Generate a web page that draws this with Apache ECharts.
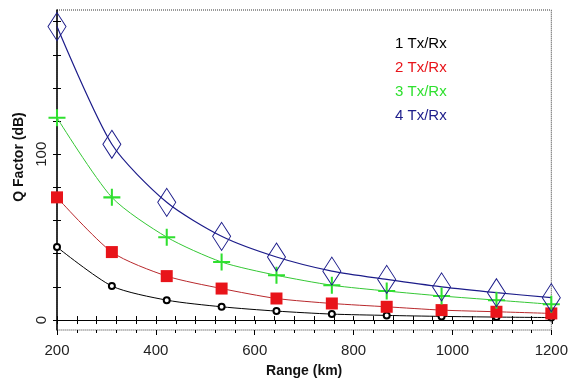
<!DOCTYPE html>
<html>
<head>
<meta charset="utf-8">
<script src="https://cdn.jsdelivr.net/npm/echarts@6/dist/echarts.min.js"></script>
<style>
  html, body { margin: 0; padding: 0; background: #fff; }
  #chart { width: 571px; height: 387px; }
</style>
</head>
<body>
<div id="chart"></div>
<script>
// Q factor vs range, one curve per Tx/Rx count
const rangeKm = [200, 311, 422, 533, 644, 756, 867, 978, 1089, 1200];
const q1 = [44, 20.5, 12, 8, 5.4, 3.6, 2.8, 2.2, 1.8, 1.5];
const q2 = [74, 41, 26.5, 19, 13, 10, 8, 6, 5, 4];
const q3 = [122, 74, 50, 35, 27, 21, 17.5, 14.5, 12, 9.5];
const q4 = [177, 106, 71, 50.5, 38, 29.5, 24.5, 20, 16.5, 13.5];
const seriesNames = ['1 Tx/Rx', '2 Tx/Rx', '3 Tx/Rx', '4 Tx/Rx'];
const yTicks = [0, 20, 40, 60, 80, 100, 120, 140, 160, 180];
const yLabels = [0, 100];

const FONT = '"Liberation Sans", Arial, sans-serif';
const COLORS = ['#000000', '#e8141a', '#2fe02f', '#1c1c8a'];
const LINE_COLORS = ['#000000', '#b8282c', '#34c734', '#1c1c8a'];
const PLUS = 'path://M4.4,0h1.2v4.4h4.4v1.2h-4.4v4.4h-1.2v-4.4h-4.4v-1.2h4.4z';

const pairs = ys => rangeKm.map((x, i) => [x, ys[i]]);

const chart = echarts.init(document.getElementById('chart'), null, { renderer: 'canvas' });

const gridBox = { left: 57, right: 19, top: 10, bottom: 57 };
const yRange = { min: -6, max: 187 };

chart.setOption({
  animation: false,
  textStyle: { fontFamily: FONT },
  grid: [
    Object.assign({ show: true, borderColor: '#333', borderWidth: 1, borderType: 'dotted', backgroundColor: 'transparent' }, gridBox),
    Object.assign({}, gridBox),
  ],
  legend: {
    orient: 'vertical',
    left: 385,
    top: 31,
    itemWidth: 0,
    itemHeight: 14,
    itemGap: 9,
    selectedMode: false,
    icon: 'none',
    textStyle: { fontFamily: FONT, fontSize: 15, padding: 0 },
    data: seriesNames.map((n, i) => ({ name: n, icon: 'none', textStyle: { color: COLORS[i] } })),
  },
  xAxis: [
    {
      // bottom frame with labels
      gridIndex: 0, type: 'value', position: 'bottom', min: 200, max: 1200, interval: 200,
      name: 'Range (km)', nameLocation: 'middle', nameGap: 34,
      nameTextStyle: { fontFamily: FONT, fontSize: 14, fontWeight: 'bold', color: '#111' },
      axisLine: { show: false, onZero: false },
      axisTick: { show: true, length: 5, lineStyle: { color: '#000' } },
      minorTick: { show: true, splitNumber: 5, length: 3, lineStyle: { color: '#000' } },
      axisLabel: { fontFamily: FONT, fontSize: 15, color: '#222', margin: 13, formatter: v => String(v) },
      splitLine: { show: false },
    },
    {
      // zero line, ticks pointing up
      gridIndex: 0, type: 'value', position: 'top', min: 200, max: 1200, interval: 40,
      axisLine: { show: true, onZero: true, lineStyle: { color: '#000', width: 1 } },
      axisTick: { show: true, length: 4, lineStyle: { color: '#000' } },
      axisLabel: { show: false },
      splitLine: { show: false },
    },
    {
      // zero line, ticks pointing down
      gridIndex: 1, type: 'value', position: 'bottom', min: 200, max: 1200, interval: 40,
      axisLine: { show: true, onZero: true, lineStyle: { color: '#000', width: 1 } },
      axisTick: { show: true, length: 4, lineStyle: { color: '#000' } },
      axisLabel: { show: false },
      splitLine: { show: false },
    },
  ],
  yAxis: [
    {
      gridIndex: 0, type: 'value', position: 'left', min: yRange.min, max: yRange.max,
      name: 'Q Factor (dB)', nameLocation: 'middle', nameGap: 29, nameRotate: 90,
      nameTextStyle: { fontFamily: FONT, fontSize: 14, fontWeight: 'bold', color: '#111', padding: [0, 0, 0, 26] },
      axisLine: { show: true, onZero: false, lineStyle: { color: '#000', width: 1.5 } },
      axisTick: { show: true, length: 4, customValues: yTicks, lineStyle: { color: '#000' } },
      axisLabel: { fontFamily: FONT, fontSize: 15, color: '#222', rotate: 90, margin: 8, customValues: yLabels },
      splitLine: { show: false },
    },
    {
      gridIndex: 1, type: 'value', position: 'left', min: yRange.min, max: yRange.max,
      axisLine: { show: false, onZero: false },
      axisTick: { show: true, inside: true, length: 4, customValues: yTicks, lineStyle: { color: '#000' } },
      axisLabel: { show: false },
      splitLine: { show: false },
    },
  ],
  series: [
    {
      name: seriesNames[0], type: 'line', xAxisIndex: 0, yAxisIndex: 0, data: pairs(q1),
      smooth: 0.25, symbol: 'emptyCircle', symbolSize: 6,
      lineStyle: { color: LINE_COLORS[0], width: 1 },
      itemStyle: { color: COLORS[0], borderWidth: 1 },
    },
    {
      name: seriesNames[1], type: 'line', xAxisIndex: 0, yAxisIndex: 0, data: pairs(q2),
      smooth: 0.25, symbol: 'rect', symbolSize: 12,
      lineStyle: { color: LINE_COLORS[1], width: 1 },
      itemStyle: { color: COLORS[1] },
    },
    {
      name: seriesNames[2], type: 'line', xAxisIndex: 0, yAxisIndex: 0, data: pairs(q3),
      smooth: 0.25, symbol: PLUS, symbolSize: 17,
      lineStyle: { color: LINE_COLORS[2], width: 1 },
      itemStyle: { color: COLORS[2] },
    },
    {
      name: seriesNames[3], type: 'line', xAxisIndex: 0, yAxisIndex: 0, data: pairs(q4),
      smooth: 0.25, symbol: 'diamond', symbolSize: [18, 28],
      lineStyle: { color: LINE_COLORS[3], width: 1.2 },
      itemStyle: { color: 'rgba(0,0,0,0)', borderColor: COLORS[3], borderWidth: 1 },
    },
  ],
});
</script>
</body>
</html>
